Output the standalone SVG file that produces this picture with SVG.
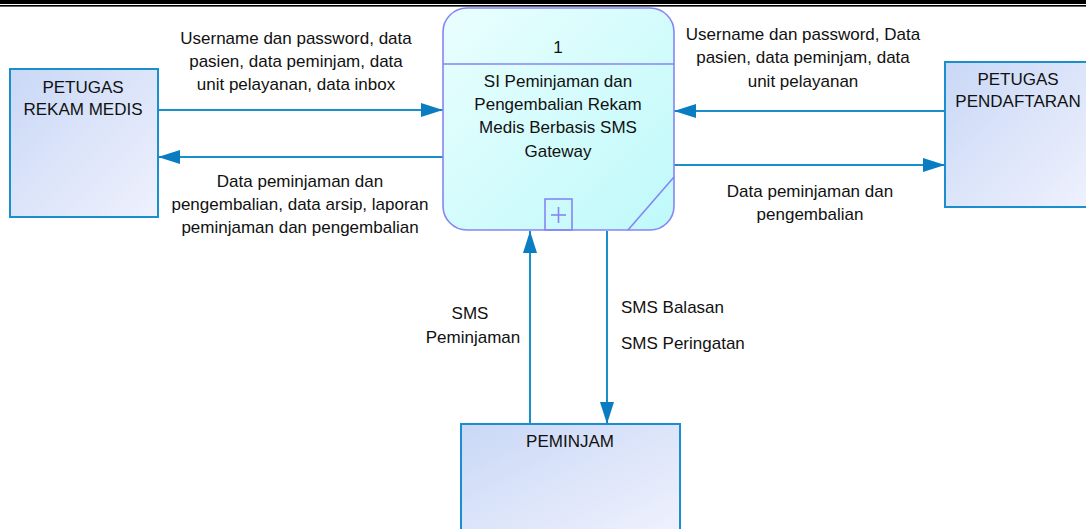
<svg xmlns="http://www.w3.org/2000/svg" width="1086" height="529" viewBox="0 0 1086 529">
<defs>
<linearGradient id="gEnt" x1="0" y1="0" x2="1" y2="1">
<stop offset="0" stop-color="#c9d8f6"/>
<stop offset="1" stop-color="#eff1fd"/>
</linearGradient>
<linearGradient id="gProc" x1="0" y1="0" x2="1" y2="1">
<stop offset="0" stop-color="#eafefe"/>
<stop offset="1" stop-color="#bff9fa"/>
</linearGradient>
<marker id="arr" viewBox="0 0 22 14" refX="22" refY="7" markerWidth="22" markerHeight="14" markerUnits="userSpaceOnUse" orient="auto">
<path d="M0,0 L22,7 L0,14 Z" fill="#0a7dc2"/>
</marker>
<style>
text{font-family:"Liberation Sans",Arial,sans-serif;font-size:17px;fill:#111;}
.c{text-anchor:middle;}
.ent{fill:url(#gEnt);stroke:#1b8fce;stroke-width:2;}
.proc{fill:url(#gProc);stroke:#8585f5;stroke-width:1.6;}
.pl{fill:none;stroke:#8585f5;stroke-width:1.6;}
.flow{fill:none;stroke:#1a8fcc;stroke-width:2;marker-end:url(#arr);}
</style>
</defs>
<rect x="0" y="0" width="1086" height="4" fill="#000"/>
<rect x="0" y="5" width="1086" height="1.6" fill="#000"/>

<g id="connectors">
<line class="flow" x1="158" y1="110" x2="443" y2="110"/>
<line class="flow" x1="443" y1="157" x2="158" y2="157"/>
<line class="flow" x1="945" y1="111" x2="674" y2="111"/>
<line class="flow" x1="674" y1="165" x2="945" y2="165"/>
<line class="flow" x1="530" y1="424" x2="530" y2="231"/>
<line class="flow" x1="607" y1="231" x2="607" y2="424"/>
<text class="c" x="296" y="44">Username dan password, data</text>
<text class="c" x="296" y="67">pasien, data peminjam, data</text>
<text class="c" x="296" y="90">unit pelayanan, data inbox</text>
<text class="c" x="300" y="187">Data peminjaman dan</text>
<text class="c" x="300" y="210">pengembalian, data arsip, laporan</text>
<text class="c" x="300" y="233">peminjaman dan pengembalian</text>
<text class="c" x="803" y="40">Username dan password, Data</text>
<text class="c" x="803" y="63">pasien, data peminjam, data</text>
<text class="c" x="803" y="87">unit pelayanan</text>
<text class="c" x="810" y="197">Data peminjaman dan</text>
<text class="c" x="810" y="220">pengembalian</text>
<text class="c" x="470" y="319">SMS</text>
<text class="c" x="473" y="343">Peminjaman</text>
<text x="621" y="313">SMS Balasan</text>
<text x="621" y="349">SMS Peringatan</text>
</g>

<g id="process1">
<rect class="proc" x="443" y="8" width="231" height="222" rx="24" ry="24"/>
<line class="pl" x1="443" y1="64" x2="674" y2="64"/>
<rect class="pl" x="545" y="199" width="27" height="31"/>
<line class="pl" x1="551" y1="215" x2="566" y2="215"/>
<line class="pl" x1="558.5" y1="207" x2="558.5" y2="223"/>
<line class="pl" x1="628" y1="230" x2="674" y2="177"/>
<text class="c" x="558" y="53">1</text>
<text class="c" x="558" y="87">SI Peminjaman dan</text>
<text class="c" x="558" y="110">Pengembalian Rekam</text>
<text class="c" x="558" y="133">Medis Berbasis SMS</text>
<text class="c" x="558" y="157">Gateway</text>
</g>

<g id="petugas-rekam-medis">
<rect class="ent" x="10" y="69" width="148" height="148"/>
<text class="c" x="83" y="93">PETUGAS</text>
<text class="c" x="83" y="115">REKAM MEDIS</text>
</g>

<g id="petugas-pendaftaran">
<rect class="ent" x="945" y="62" width="146" height="145"/>
<text class="c" x="1018" y="85">PETUGAS</text>
<text class="c" x="1018" y="107">PENDAFTARAN</text>
</g>

<g id="peminjam">
<rect class="ent" x="461" y="424" width="219" height="110"/>
<text class="c" x="570" y="447">PEMINJAM</text>
</g>
</svg>
